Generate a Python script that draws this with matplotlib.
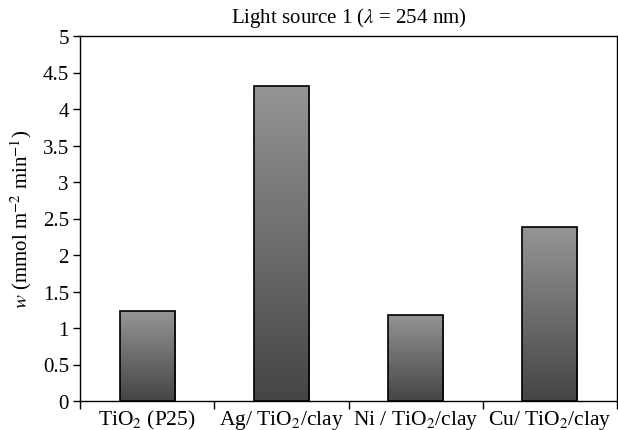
import numpy as np
import matplotlib.pyplot as plt

plt.rcParams['font.family'] = ['Liberation Serif', 'DejaVu Serif']
plt.rcParams['mathtext.fontset'] = 'stix'

# data
catalysts = ["TiO$_2$ (P25)", "Ag/ TiO$_2$/clay", "Ni / TiO$_2$/clay", "Cu/ TiO$_2$/clay"]
rates = [1.23, 4.32, 1.18, 2.38]
yticks = [0, 0.5, 1, 1.5, 2, 2.5, 3, 3.5, 4, 4.5, 5]
ytick_labels = ["0", "0.5", "1", "1.5", "2", "2.5", "3", "3.5", "4", "4.5", "5"]

fig = plt.figure(figsize=(6.18, 4.31), dpi=100, facecolor="white")
ax = fig.add_axes([80/618, 29/431, 537/618, 365/431])

x = np.arange(len(catalysts))
bars = ax.bar(x, rates, width=0.41, facecolor='none', edgecolor='black', linewidth=1.2, zorder=3)

# vertical gradient inside each bar (light top, dark bottom)
grad = np.linspace(0, 1, 256).reshape(-1, 1)
cmap = plt.matplotlib.colors.LinearSegmentedColormap.from_list('g', ['#454545', '#959595'])
for b in bars:
    x0, y0 = b.get_x(), b.get_y()
    w, h = b.get_width(), b.get_height()
    im = ax.imshow(grad, cmap=cmap, origin='lower', aspect='auto',
                   extent=[x0, x0 + w, y0, y0 + h], zorder=2)
    im.set_clip_path(b)

ax.set_xlim(-0.5, len(catalysts) - 0.5)
ax.set_ylim(0, 5)

ax.set_yticks(yticks)
ax.set_yticklabels(ytick_labels, fontsize=15)
ax.set_xticks(x)
ax.set_xticklabels(catalysts, fontsize=15.5)
ax.set_xticks(np.arange(-0.5, len(catalysts) + 0.5, 1), minor=True)
ax.tick_params(axis='x', which='major', length=0, pad=5)
ax.tick_params(axis='x', which='minor', length=6, width=1, direction='out')
ax.tick_params(axis='y', length=5, width=1, direction='out', pad=3)

for s in ax.spines.values():
    s.set_linewidth(1)

ax.set_ylabel(r"$w$ (mmol m$^{-2}$ min$^{-1}$)", fontsize=15, labelpad=6)
ax.set_title(r"Light source 1 ($\lambda$ = 254 nm)", fontsize=15, pad=10)

fig.savefig("out.png", dpi=100)
